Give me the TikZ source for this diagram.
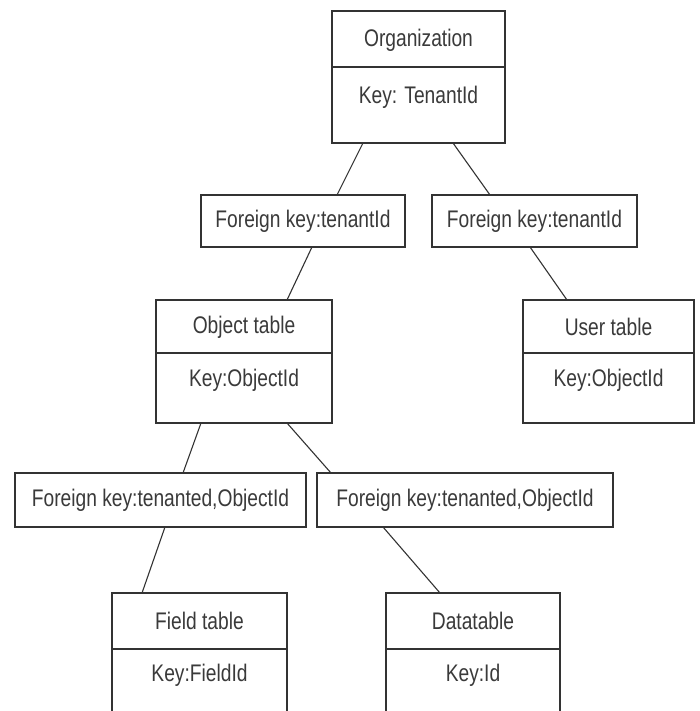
\documentclass[tikz,border=0pt]{standalone}
\usepackage{fontspec}
\setmainfont{Liberation Sans}[FakeStretch=0.8]
\usetikzlibrary{calc}
\definecolor{ink}{HTML}{333333}
\definecolor{txt}{HTML}{3A3A3A}
\tikzset{
  tbox/.style={draw=ink, line width=1.6pt, inner sep=0pt, outer sep=0pt, anchor=north west, rectangle},
  divider/.style={draw=ink, line width=1.6pt},
  conn/.style={draw=ink, line width=1.1pt},
  lbl/.style={text=txt, inner sep=0pt, font=\fontsize{24}{28}\selectfont, anchor=center}
}
\begin{document}
\begin{tikzpicture}[x=1pt, y=-1pt]
\useasboundingbox (0,0) rectangle (700,711);
\clip (0,0) rectangle (700,711);
\fill[white] (0,0) rectangle (700,711);

% Organization
\node[tbox, minimum width=173pt, minimum height=132pt] (org) at (332,11) {};
\draw[divider] ($(org.north west)+(0,56)$) -- ($(org.north east)+(0,56)$);
\node[lbl] (orgname) at ($(org.north)+(0,29)$) {Organization};
\node[lbl] (orgkey) at ($(org.north)+(0,86)$) {Key: TenantId};

% Foreign key boxes, level 1
\node[tbox, minimum width=204pt, minimum height=52pt] (fk1) at (201,195) {};
\node[lbl] (fk1t) at (fk1.center) {Foreign key:tenantId};
\node[tbox, minimum width=205pt, minimum height=52pt] (fk2) at (432,195) {};
\node[lbl] (fk2t) at (fk2.center) {Foreign key:tenantId};

% Object table
\node[tbox, minimum width=176pt, minimum height=123pt] (obj) at (156,300) {};
\draw[divider] ($(obj.north west)+(0,53)$) -- ($(obj.north east)+(0,53)$);
\node[lbl] (objname) at ($(obj.north)+(0,27)$) {Object table};
\node[lbl] (objkey) at ($(obj.north)+(0,80)$) {Key:ObjectId};

% User table
\node[tbox, minimum width=171pt, minimum height=123pt] (usr) at (523,300) {};
\draw[divider] ($(usr.north west)+(0,53)$) -- ($(usr.north east)+(0,53)$);
\node[lbl] (usrname) at ($(usr.north)+(0,27)$) {User table};
\node[lbl] (usrkey) at ($(usr.north)+(0,80)$) {Key:ObjectId};

% Foreign key boxes, level 2
\node[tbox, minimum width=291pt, minimum height=54pt] (fk3) at (15,473) {};
\node[lbl] (fk3t) at (fk3.center) {Foreign key:tenanted,ObjectId};
\node[tbox, minimum width=296pt, minimum height=54pt] (fk4) at (317,473) {};
\node[lbl] (fk4t) at (fk4.center) {Foreign key:tenanted,ObjectId};

% Field table
\node[tbox, minimum width=175pt, minimum height=132pt] (fld) at (112,593) {};
\draw[divider] ($(fld.north west)+(0,56)$) -- ($(fld.north east)+(0,56)$);
\node[lbl] (fldname) at ($(fld.north)+(0,28)$) {Field table};
\node[lbl] (fldkey) at ($(fld.north)+(0,82)$) {Key:FieldId};

% Datatable
\node[tbox, minimum width=174pt, minimum height=132pt] (dat) at (386,593) {};
\draw[divider] ($(dat.north west)+(0,56)$) -- ($(dat.north east)+(0,56)$);
\node[lbl] (datname) at ($(dat.north)+(0,28)$) {Datatable};
\node[lbl] (datkey) at ($(dat.north)+(0,82)$) {Key:Id};

% Connectors
\draw[conn] ($(org.south west)+(31,0)$) -- ($(fk1.north west)+(136,0)$);
\draw[conn] ($(org.south west)+(121,0)$) -- ($(fk2.north west)+(58,0)$);
\draw[conn] ($(fk1.south west)+(111,0)$) -- ($(obj.north west)+(131,0)$);
\draw[conn] ($(fk2.south west)+(98,0)$) -- ($(usr.north west)+(44,0)$);
\draw[conn] ($(obj.south west)+(45,0)$) -- ($(fk3.north west)+(168,0)$);
\draw[conn] ($(obj.south west)+(131,0)$) -- ($(fk4.north west)+(14,0)$);
\draw[conn] ($(fk3.south west)+(150,0)$) -- ($(fld.north west)+(30,0)$);
\draw[conn] ($(fk4.south west)+(66,0)$) -- ($(dat.north west)+(54,0)$);
\end{tikzpicture}
\end{document}
